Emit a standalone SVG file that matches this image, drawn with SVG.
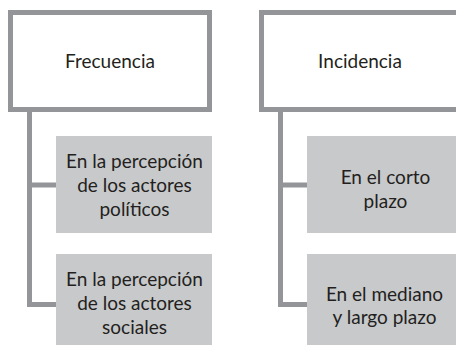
<svg xmlns="http://www.w3.org/2000/svg" width="456" height="345" viewBox="0 0 456 345">
<style>
.top{fill:#ffffff;stroke:#939598;stroke-width:5}
.sub{fill:#c8c9cb}
.conn{fill:none;stroke:#939598;stroke-width:5}
text{font-family:Lato,"Open Sans",sans-serif;font-size:19px;fill:#231f20;text-anchor:middle}
</style>
<rect width="456" height="345" fill="#ffffff"/>
<g id="connectors">
<path class="conn" d="M29.5,112 V307 M29.5,185 H56 M27,304.5 H56"/>
<path class="conn" d="M280.5,112 V307 M280.5,185 H307 M278,304.5 H307"/>
</g>
<g id="frecuencia">
<rect class="top" x="10.5" y="12.5" width="199" height="97"/>
<text x="110" y="68">Frecuencia</text>
</g>
<g id="incidencia">
<rect class="top" x="261.5" y="12.5" width="199" height="97"/>
<text x="360" y="68">Incidencia</text>
</g>
<g id="politicos">
<rect class="sub" x="56" y="136" width="156" height="97"/>
<text x="134.5" y="167.5">En la percepción</text>
<text x="134.5" y="191.5">de los actores</text>
<text x="134.5" y="215.5">políticos</text>
</g>
<g id="sociales">
<rect class="sub" x="56" y="254" width="156" height="98"/>
<text x="134.5" y="286">En la percepción</text>
<text x="134.5" y="310">de los actores</text>
<text x="134.5" y="334">sociales</text>
</g>
<g id="corto">
<rect class="sub" x="307" y="136" width="156" height="97"/>
<text x="385.5" y="184">En el corto</text>
<text x="385.5" y="208">plazo</text>
</g>
<g id="mediano">
<rect class="sub" x="307" y="254" width="156" height="98"/>
<text x="384.5" y="301">En el mediano</text>
<text x="384.5" y="324">y largo plazo</text>
</g>
</svg>
